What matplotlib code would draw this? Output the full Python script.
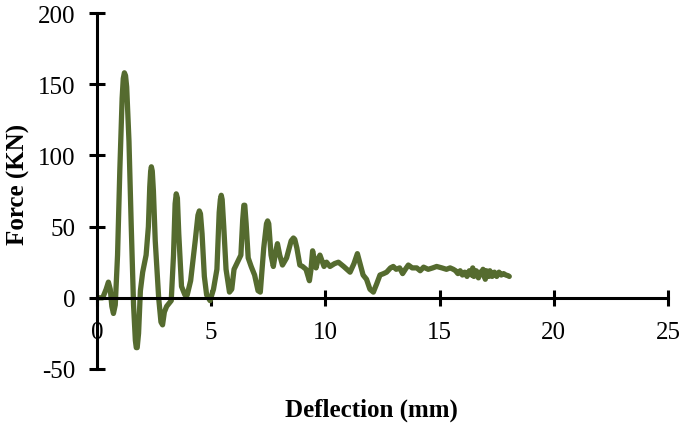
import matplotlib
matplotlib.use("Agg")
import matplotlib.pyplot as plt

# deflection (mm) and force (kN)
deflection = [
    0.0, 0.25, 0.4, 0.5, 0.58, 0.65, 0.72, 0.8, 0.9, 1.0, 1.1, 1.15, 1.2, 1.25,
    1.3, 1.4, 1.5, 1.6, 1.68, 1.72, 1.76, 1.82, 1.9, 2.0, 2.15, 2.25, 2.31,
    2.35, 2.38, 2.42, 2.47, 2.55, 2.7, 2.8, 2.87, 2.95, 3.05, 3.25, 3.35, 3.42,
    3.47, 3.52, 3.58, 3.7, 3.85, 3.95, 4.1, 4.3, 4.42, 4.48, 4.53, 4.6, 4.7,
    4.8, 4.95, 5.1, 5.25, 5.35, 5.4, 5.44, 5.48, 5.55, 5.65, 5.8, 5.9, 6.0,
    6.15, 6.3, 6.38, 6.43, 6.47, 6.53, 6.62, 6.75, 6.9, 7.05, 7.15, 7.3, 7.42,
    7.47, 7.52, 7.62, 7.72, 7.82, 7.9, 8.0, 8.12, 8.3, 8.5, 8.6, 8.66, 8.75,
    8.88, 9.0, 9.15, 9.3, 9.37, 9.44, 9.5, 9.59, 9.68, 9.76, 9.85, 9.94,
    10.05, 10.2, 10.4, 10.57, 10.8, 11.08, 11.25, 11.4, 11.5, 11.65, 11.8,
    11.95, 12.1, 12.25, 12.39, 12.55, 12.68, 12.85, 12.97, 13.1, 13.25, 13.38,
    13.5, 13.63, 13.8, 14.0, 14.15, 14.3, 14.5, 14.7, 14.87, 15.1, 15.3, 15.46,
    15.6, 15.7, 15.8, 15.9, 16.0, 16.1, 16.2, 16.3, 16.4, 16.45, 16.5, 16.6,
    16.7, 16.75, 16.8, 16.9, 17.0, 17.05, 17.15, 17.2, 17.3, 17.4, 17.5, 17.6,
    17.7, 17.8, 17.9, 18.0, 18.05,
]
force = [
    0, 0, 6, 11, 6, -6, -11, -5, 30, 90, 140, 154, 158, 156,
    148, 110, 50, -5, -30, -35, -35, -25, 5, 18, 30, 50, 78,
    89, 92, 89, 75, 40, 0, -17, -19, -10, -6, -2, 30, 66,
    73, 70, 45, 8, 2, 2, 12, 40, 58, 61, 59, 45, 15,
    2, -2, 6, 20, 60, 69, 72, 69, 50, 20, 4, 6, 20,
    25, 30, 55, 65, 65, 52, 28, 22, 16, 5, 4, 35, 52,
    54, 52, 30, 22, 32, 38, 30, 23, 28, 40, 42, 41, 35,
    23, 22, 20, 12, 20, 33, 28, 21, 27, 30, 26, 22,
    25, 22, 24, 25, 22, 18, 24, 31, 25, 16, 13,
    6, 4, 10, 16, 17, 18, 21, 22, 20, 21, 17,
    20, 23, 21, 21, 19, 21.5, 20, 21, 22, 21, 20, 21,
    20, 19, 17, 19, 16, 18, 15, 19, 16, 21, 15, 19,
    14, 18, 16, 20, 13, 19, 15, 19, 15, 18, 15, 18,
    16, 17, 16, 15.5, 15,
]

x_ticks = [0, 5, 10, 15, 20, 25]
y_ticks = [-50, 0, 50, 100, 150, 200]

plt.rcParams["font.family"] = ["Liberation Serif", "DejaVu Serif"]
plt.rcParams["axes.unicode_minus"] = False

fig = plt.figure(figsize=(6.85, 4.27), dpi=100)
ax = fig.add_axes([0.1416, 0.1335, 0.8336, 0.8337])

ax.plot(deflection, force, color="#556B2F", lw=3.8,
        solid_joinstyle="round", solid_capstyle="round")

ax.set_xlim(0, 25)
ax.set_ylim(-50, 200)
ax.set_xticks(x_ticks)
ax.set_yticks(y_ticks)

ax.spines["top"].set_visible(False)
ax.spines["right"].set_visible(False)
ax.spines["bottom"].set_position(("data", 0))
for s in ("left", "bottom"):
    ax.spines[s].set_linewidth(2.2)

ax.tick_params(axis="both", direction="inout", length=11, width=2.2,
               labelsize=18)
ax.tick_params(axis="x", pad=11)
ax.tick_params(axis="y", pad=10)

ax.set_xlabel("Deflection (mm)", fontsize=18, fontweight="bold")
ax.set_ylabel("Force (KN)", fontsize=18, fontweight="bold")
ax.xaxis.set_label_coords(0.48, -0.079)
ax.yaxis.set_label_coords(-0.117, 0.52)

fig.savefig("out.png", dpi=100)
